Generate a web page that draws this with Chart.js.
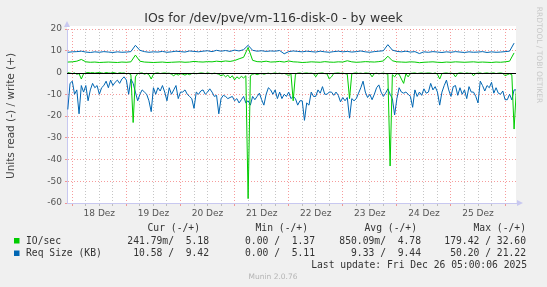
<!DOCTYPE html>
<html>
<head>
<meta charset="utf-8">
<script src="https://cdn.jsdelivr.net/npm/chart.js@4.4.1/dist/chart.umd.min.js"></script>
<style>
  html, body { margin: 0; padding: 0; background: #f0f0f0; }
</style>
</head>
<body>
<canvas id="ioChart" width="547" height="287"></canvas>
<script>
// day labels, placed at noon of each day (hours since 18 Dez 00:00)
const dayLabels = ['18 Dez', '19 Dez', '20 Dez', '21 Dez', '22 Dez', '23 Dez', '24 Dez', '25 Dez'];

// sample times (hours since 18 Dez 00:00): write series every 2h, read series every hour
const hoursWrite = [];
for (let h = -2; h <= 196; h += 2) hoursWrite.push(h);
const hoursRead = [];
for (let h = -2; h <= 197; h += 1) hoursRead.push(h);

// IO/sec write (+)
const ioWrite = [
    4.8, 4.9, 5.2, 6.0, 4.9, 4.7, 4.8, 4.6, 4.7, 4.8,
    4.7, 4.6, 4.8, 4.7, 4.9, 8.0, 5.2, 4.8, 4.7, 4.6,
    4.7, 4.8, 4.6, 4.7, 4.8, 4.9, 4.7, 4.8, 5.1, 4.9,
    4.8, 5.0, 4.9, 5.2, 5.0, 5.3, 5.1, 5.5, 6.3, 7.0,
    11.5, 5.6, 5.0, 4.9, 5.2, 4.8, 4.9, 5.1, 4.8, 5.3,
    4.9, 4.8, 4.6, 4.7, 4.9, 4.8, 4.7, 5.0, 4.8, 4.7,
    4.9, 4.8, 5.4, 4.9, 4.7, 4.8, 5.0, 4.9, 4.8, 5.0,
    5.3, 7.5, 5.4, 4.9, 4.8, 4.7, 4.9, 4.8, 4.5, 4.7,
    4.8, 4.9, 4.7, 4.6, 4.8, 4.7, 4.9, 4.8, 4.7, 4.8,
    4.9, 4.7, 4.8, 4.7, 4.6, 4.8, 4.7, 4.9, 5.2, 9.0
];

// Req Size (KB) write (+)
const reqWrite = [
    9.3, 9.5, 9.6, 9.8, 9.4, 9.2, 9.5, 9.3, 9.6, 9.4,
    9.2, 9.5, 9.3, 9.4, 9.6, 12.5, 10.2, 9.6, 9.3, 9.5,
    9.4, 9.7, 9.3, 9.5, 9.8, 9.6, 9.4, 9.9, 9.7, 9.5,
    9.8, 10.0, 9.6, 10.2, 9.8, 10.1, 9.7, 10.3, 9.9, 10.5,
    12.5, 10.2, 9.8, 10.0, 9.7, 9.9, 9.8, 10.1, 8.6, 9.6,
    9.9, 9.7, 9.5, 9.8, 9.6, 9.4, 9.8, 9.5, 9.3, 9.6,
    9.8, 9.5, 9.7, 9.4, 9.6, 9.9, 9.5, 9.3, 9.6, 9.8,
    10.0, 12.8, 10.3, 9.7, 9.5, 9.8, 9.4, 9.6, 8.7, 9.5,
    9.3, 9.6, 9.4, 9.2, 9.5, 9.3, 9.6, 9.4, 9.2, 9.5,
    9.3, 9.4, 9.6, 9.2, 9.5, 9.3, 9.4, 9.6, 9.8, 13.5
];

// IO/sec read (-), hourly
const ioRead = [
    0, -0.3, -0.5, -0.2, -0.8, -0.5, -3, -0.6, -0.2, 0,
    -0.2, 0, -0.3, -0.1, 0, -0.2, -0.4, 0, -0.2, -0.3,
    0, -0.2, -0.5, -0.1, -0.3, -0.2, -0.6, -0.4, -1, -23,
    -2, -0.5, -0.3, -0.2, -0.8, -0.4, -1, -3, -0.8, -0.3,
    -0.2, -0.5, -0.3, -0.2, -0.4, -0.3, -0.8, -1.5, -0.6, -1.2,
    -0.5, -0.8, -1.2, -0.6, -1, -0.5, -0.3, -0.6, -0.4, -0.2,
    -0.3, -0.5, -0.2, -0.4, -0.6, -0.3, -0.5, -0.8, -1.5, -1,
    -2, -1.2, -2.5, -1.5, -3.4, -2, -2.8, -1.8, -2.5, -1.5,
    -58, -1.5, -0.8, -0.5, -1, -0.6, -0.4, -0.8, -0.5, -0.3,
    -0.6, -0.4, -0.2, -0.5, -0.3, -0.6, -0.4, -0.8, -1.5, -0.5,
    -13, -0.8, -0.3, -0.2, -0.5, -0.3, -0.2, -0.4, -0.3, -0.5,
    -2, -0.4, -0.3, -0.2, -0.5, -0.6, -3, -2, -0.4, -0.3,
    -0.2, -0.4, -0.3, -0.5, -0.8, -12, -0.6, -0.3, -0.2, -0.4,
    -0.3, -0.5, -0.2, -0.3, -0.4, -2, -0.5, -0.3, -0.6, -0.4,
    -0.3, -0.5, -0.8, -43, -1, -2, -0.5, -0.8, -3, -5,
    -0.6, -2, -0.4, -0.3, -0.2, -0.5, -0.3, -0.2, -0.4, -0.3,
    -0.2, -0.3, -0.5, -0.2, -0.8, -3, -0.5, -0.3, -0.2, -0.4,
    -0.3, -0.5, -2, -0.4, -0.2, -0.3, -0.5, -0.2, -0.4, -0.3,
    -1.5, -0.4, -0.3, -0.2, -0.5, -0.3, -0.2, -0.4, -0.3, -0.2,
    -0.5, -0.3, -0.2, -0.4, -1.5, -1, -0.6, -1, -26, -8
];

// Req Size (KB) read (-), hourly
const reqRead = [
    -17, -5, -4, -10, -8, -19, -6, -9, -6, -13,
    -8, -5, -7, -6, -10, -7, -6, -4, -7, -3.5,
    -6, -4.5, -3.5, -5, -3, -2, -3.5, -10, -3, -5,
    -9, -13, -10, -8, -9, -10, -13, -18, -7, -10,
    -7, -8.5, -6, -9, -13, -7, -10, -8, -6, -12,
    -9, -9, -8, -10, -11, -12, -16.5, -9, -10, -8.5,
    -8, -10, -9, -7.5, -9, -11, -10.5, -19, -12, -10.5,
    -11, -12, -11.5, -11, -13, -12, -14, -12.5, -11, -14,
    -13, -15, -11, -12.5, -11, -9.5, -12.5, -15, -10, -7,
    -8, -10, -8, -12, -9, -12, -10, -11, -9, -12,
    -11, -12, -15, -13, -13, -22, -14, -15, -9, -11,
    -11, -8, -9.5, -6.5, -10, -10, -9, -9, -10.5, -9,
    -10.5, -13.5, -11.5, -13, -11.5, -21, -12, -13, -12, -9.5,
    -7, -4, -9, -11.5, -10, -12.5, -10, -7, -5.7, -9,
    -11, -9.5, -7.5, -10, -12, -19.5, -12, -7, -9, -9.5,
    -9, -10, -11, -16, -8, -11, -9, -10.5, -7.5, -9.5,
    -9, -5, -8, -6.5, -9, -15, -9, -6, -3.5, -8,
    -11, -6.5, -6, -10.5, -7, -10, -8, -12, -6.5, -9,
    -9, -11, -14, -4, -6, -8.5, -6, -7, -4.5, -9.5,
    -7, -9.5, -10, -8.5, -12.5, -12.5, -10, -12.6, -8, -8
];

// legend table
const legendNames = ['IO/sec', 'Req Size (KB)'];
const legendColors = ['#00cc00', '#0066b3'];
const legendHeaders = ['Cur (-/+)', 'Min (-/+)', 'Avg (-/+)', 'Max (-/+)'];
const legendRows = [
    ['241.79m/  5.18', '0.00 /  1.37', '850.09m/  4.78', '179.42 / 32.60'],
    ['10.58 /  9.42', '0.00 /  5.11', '9.33 /  9.44', '50.20 / 21.22']
];

const toXY = (xs, vals) => xs.map((h, i) => ({ x: h, y: vals[i] }));

const munin = {
    id: 'munin',
    beforeDraw(chart) {
        const { ctx, chartArea: a } = chart;
        ctx.save();
        ctx.fillStyle = '#f0f0f0';
        ctx.fillRect(0, 0, chart.width, chart.height);
        ctx.fillStyle = '#ffffff';
        ctx.fillRect(a.left, a.top - 3, a.right - a.left, a.bottom - a.top + 3);
        ctx.restore();
    },
    afterDatasetsDraw(chart) {
        const { ctx, chartArea: a, scales } = chart;
        const y0 = Math.round(scales.y.getPixelForValue(0)) + 0.5;
        ctx.save();
        ctx.strokeStyle = '#000000';
        ctx.lineWidth = 1;
        ctx.beginPath();
        ctx.moveTo(a.left, y0);
        ctx.lineTo(a.right, y0);
        ctx.stroke();
        ctx.restore();
    },
    afterDraw(chart) {
        const { ctx, chartArea: a } = chart;
        ctx.save();
        // axis arrows
        ctx.fillStyle = '#c8c8f0';
        ctx.beginPath();
        ctx.moveTo(a.left - 3, a.top - 2);
        ctx.lineTo(a.left + 3, a.top - 2);
        ctx.lineTo(a.left, a.top - 8);
        ctx.fill();
        ctx.beginPath();
        ctx.moveTo(a.right + 1, a.bottom - 3);
        ctx.lineTo(a.right + 1, a.bottom + 3);
        ctx.lineTo(a.right + 7, a.bottom);
        ctx.fill();

        // title
        ctx.fillStyle = '#333';
        ctx.textBaseline = 'middle';
        ctx.textAlign = 'center';
        ctx.font = '12.5px "DejaVu Sans"';
        ctx.fillText('IOs for /dev/pve/vm-116-disk-0 - by week', 273.5, 19);

        // y axis title
        ctx.save();
        ctx.translate(11, (a.top + a.bottom) / 2);
        ctx.rotate(-Math.PI / 2);
        ctx.font = '10.5px "DejaVu Sans"';
        ctx.fillStyle = '#444';
        ctx.fillText('Units read (-) / write (+)', 0, 0);
        ctx.restore();

        // rrdtool credit
        ctx.save();
        ctx.translate(539, 55);
        ctx.rotate(Math.PI / 2);
        ctx.font = '7.5px "DejaVu Sans"';
        ctx.fillStyle = '#c8c8c8';
        ctx.fillText('RRDTOOL / TOBI OETIKER', 0, 0);
        ctx.restore();

        // legend
        ctx.font = '9.7px "DejaVu Sans Mono"';
        ctx.fillStyle = '#333';
        ctx.textAlign = 'right';
        const headerRight = [200, 308, 417, 526];
        const valueRight = [209, 315, 421, 526];
        legendHeaders.forEach((t, i) => ctx.fillText(t, headerRight[i], 228.5));
        legendNames.forEach((name, r) => {
            const y = 241 + r * 12.5;
            ctx.fillStyle = legendColors[r];
            ctx.fillRect(14, y - 3, 5.5, 5.5);
            ctx.fillStyle = '#333';
            ctx.textAlign = 'left';
            ctx.fillText(name, 26, y);
            ctx.textAlign = 'right';
            legendRows[r].forEach((t, i) => ctx.fillText(t, valueRight[i], y));
        });
        ctx.fillText('Last update: Fri Dec 26 05:00:06 2025', 527, 265.5);

        ctx.textAlign = 'center';
        ctx.font = '7.5px "DejaVu Sans"';
        ctx.fillStyle = '#b4b4b4';
        ctx.fillText('Munin 2.0.76', 273, 277.5);
        ctx.restore();
    }
};

const tickFont = { family: 'DejaVu Sans', size: 9 };

const ctx = document.getElementById('ioChart').getContext('2d');
const ioChart = new Chart(ctx, {
    type: 'line',
    data: {
        datasets: [
            { label: 'IO/sec write', data: toXY(hoursWrite, ioWrite), borderColor: '#00cc00' },
            { label: 'IO/sec read', data: toXY(hoursRead, ioRead), borderColor: '#00cc00' },
            { label: 'Req Size write', data: toXY(hoursWrite, reqWrite), borderColor: '#0066b3' },
            { label: 'Req Size read', data: toXY(hoursRead, reqRead), borderColor: '#0066b3' }
        ]
    },
    options: {
        responsive: false,
        animation: false,
        events: [],
        layout: { padding: { top: 29, right: 31, left: 0, bottom: 0 } },
        elements: {
            line: { borderWidth: 1, tension: 0, fill: false },
            point: { radius: 0 }
        },
        plugins: {
            legend: { display: false },
            tooltip: { enabled: false }
        },
        scales: {
            x: {
                type: 'linear',
                min: -2.35,
                max: 196.85,
                afterBuildTicks(scale) {
                    const t = [];
                    for (let h = 0; h <= 192; h += 6) t.push({ value: h });
                    scale.ticks = t;
                },
                afterFit(scale) { scale.height = 84; },
                ticks: {
                    autoSkip: false,
                    maxRotation: 0,
                    padding: 2,
                    color: '#555',
                    font: tickFont,
                    callback: (v) => (v % 24 === 12 ? dayLabels[(v - 12) / 24] : '')
                },
                grid: {
                    tickLength: 3,
                    color: (c) => (c.tick && c.tick.value % 24 === 0 ? 'rgba(240,90,90,0.6)' : 'rgba(150,150,150,0.55)')
                },
                border: { display: true, color: '#c8c8f0', dash: [1, 2] }
            },
            y: {
                min: -60,
                max: 20,
                afterFit(scale) { scale.width = 67; },
                ticks: {
                    stepSize: 5,
                    padding: 3,
                    color: '#555',
                    font: tickFont,
                    callback: (v) => (v % 10 === 0 ? String(v) : '')
                },
                grid: {
                    tickLength: 2,
                    color: (c) => {
                        const v = c.tick ? c.tick.value : 1;
                        if (v === 0) return 'rgba(0,0,0,0)';
                        return v % 10 === 0 ? 'rgba(240,90,90,0.6)' : 'rgba(150,150,150,0.55)';
                    }
                },
                border: { display: true, color: '#c8c8f0', dash: [1, 2] }
            }
        }
    },
    plugins: [munin]
});
</script>
</body>
</html>
